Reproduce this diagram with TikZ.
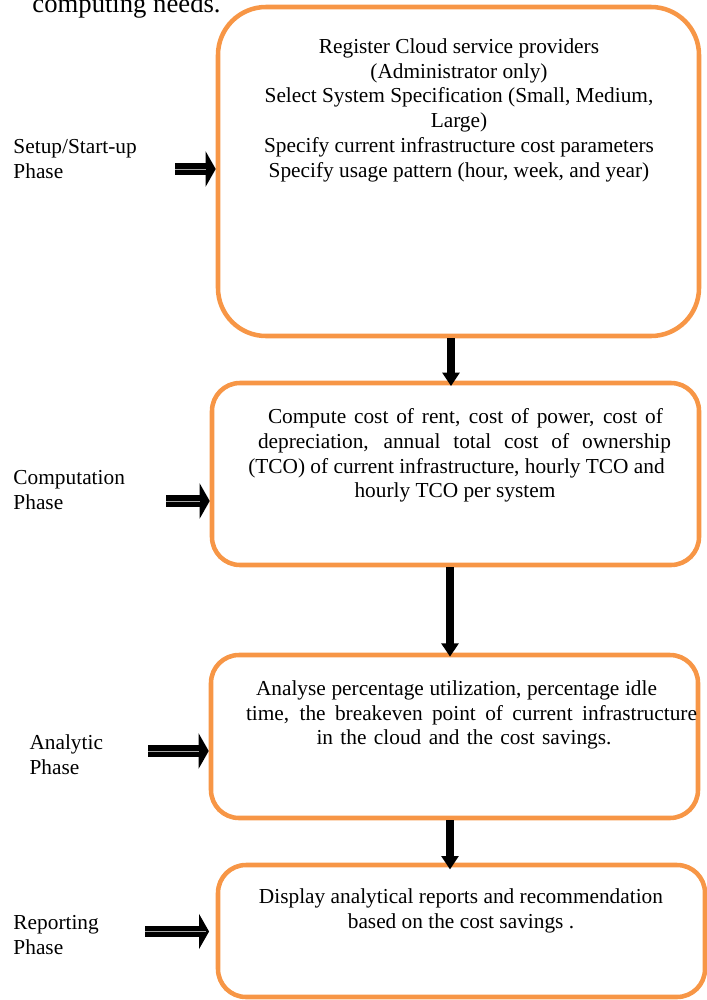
\documentclass[tikz,border=0pt]{standalone}
\usepackage{fontspec}
\setmainfont{Liberation Serif}
\usetikzlibrary{arrows.meta}

\definecolor{phaseorange}{RGB}{247,150,70}

% one line of box text: shift, stretched width, words
\newcommand{\boxline}[3]{\hspace*{#1}\makebox[#2][s]{#3}}

\tikzset{every picture/.style={line width=0.75pt},
  phasebox/.style={draw=phaseorange, line width=3.4pt, inner sep=0pt, rounded corners=21pt},
  boxtext/.style={anchor=north, inner sep=0pt, align=center, font=\fontsize{16}{18.6}\selectfont},
  phaselabel/.style={anchor=north west, inner sep=0pt, align=left, font=\fontsize{16}{18.75}\selectfont},
  downarrow/.style={line width=6.5pt, -{Triangle[length=10pt, width=12.5pt]}},
  rightarrow/.style={line width=8.5pt, -{Triangle[length=7.5pt, width=26pt]},
    postaction={draw=black!35, line width=0.6pt, -, shorten >=7pt}}
}

\begin{document}
\begin{tikzpicture}[x=0.75pt,y=0.75pt,yscale=-1,xscale=1]
        \useasboundingbox (0,0) rectangle (707,1000);
        \clip (0,0) rectangle (707,1000);

        % Text Node (cut off page text)
        \node [anchor=base west, inner sep=0pt, font=\fontsize{20}{24}\selectfont] (pagetext) at (32,12) {computing needs.};

        %Shape: Rounded Rectangles
        \node [phasebox, rounded corners=36pt, minimum width=360.75pt, minimum height=246.75pt] (setupbox) at (458.5,171.5) {};
        \node [phasebox, minimum width=365.25pt, minimum height=136.5pt] (compbox) at (455.5,474) {};
        \node [phasebox, minimum width=365.25pt, minimum height=122.25pt] (analbox) at (454.5,736.5) {};
        \node [phasebox, minimum width=365.25pt, minimum height=99pt] (repbox) at (461.5,931) {};

        % Text Node
        \node [boxtext] (setuptext) at (459,38) {Register Cloud service providers\\(Administrator only)\\Select System Specification (Small, Medium,\\Large)\\Specify current infrastructure cost parameters\\Specify usage pattern (hour, week, and year)};
        % Text Node
        \node [boxtext] (comptext) at (461,408) {\boxline{6.75pt}{296.25pt}{Compute cost of rent, cost of power, cost of}\\
          \boxline{5.25pt}{309.75pt}{depreciation, annual total cost of ownership}\\
          \hspace*{-6.75pt}(TCO) of current infrastructure, hourly TCO and\\
          \hspace*{-9pt}hourly TCO per system};
        % Text Node
        \node [boxtext] (analtext) at (464,680) {\boxline{-11.25pt}{300.75pt}{Analyse percentage utilization, percentage idle}\\
          \boxline{11.25pt}{338.25pt}{time, the breakeven point of current infrastructure}\\
          \boxline{0pt}{221.25pt}{in the cloud and the cost savings.}};
        % Text Node
        \node [boxtext] (reptext) at (461,888) {Display analytical reports and recommendation\\based on the cost savings .};

        % Text Node
        \node [phaselabel] (setuplabel) at (13,139) {Setup/Start-up\\Phase};
        % Text Node
        \node [phaselabel] (complabel) at (13,470) {Computation\\Phase};
        % Text Node
        \node [phaselabel] (anallabel) at (29,734.5) {Analytic\\Phase};
        % Text Node
        \node [phaselabel] (replabel) at (13,915) {Reporting\\Phase};

        %Block Arrows down
        \coordinate (d1) at (451,0);
        \coordinate (d2) at (450,0);
        \coordinate (d3) at (450,0);
        \draw [downarrow, shorten >=-4pt] (d1 |- setupbox.south) -- (d1 |- compbox.north);
        \draw [downarrow, shorten >=-3pt] (d2 |- compbox.south) -- (d2 |- analbox.north);
        \draw [downarrow, shorten >=-5pt] (d3 |- analbox.south) -- (d3 |- repbox.north);

        %Block Arrows right
        \coordinate (r1) at (175,169);
        \coordinate (r2) at (166,501);
        \coordinate (r3) at (148,751);
        \coordinate (r4) at (145,931.5);
        \draw [rightarrow] (r1) -- (r1 -| setupbox.west);
        \draw [rightarrow] (r2) -- (r2 -| compbox.west);
        \draw [rightarrow] (r3) -- (r3 -| analbox.west);
        \draw [rightarrow, shorten >=5pt] (r4) -- (r4 -| repbox.west);

\end{tikzpicture}
\end{document}
